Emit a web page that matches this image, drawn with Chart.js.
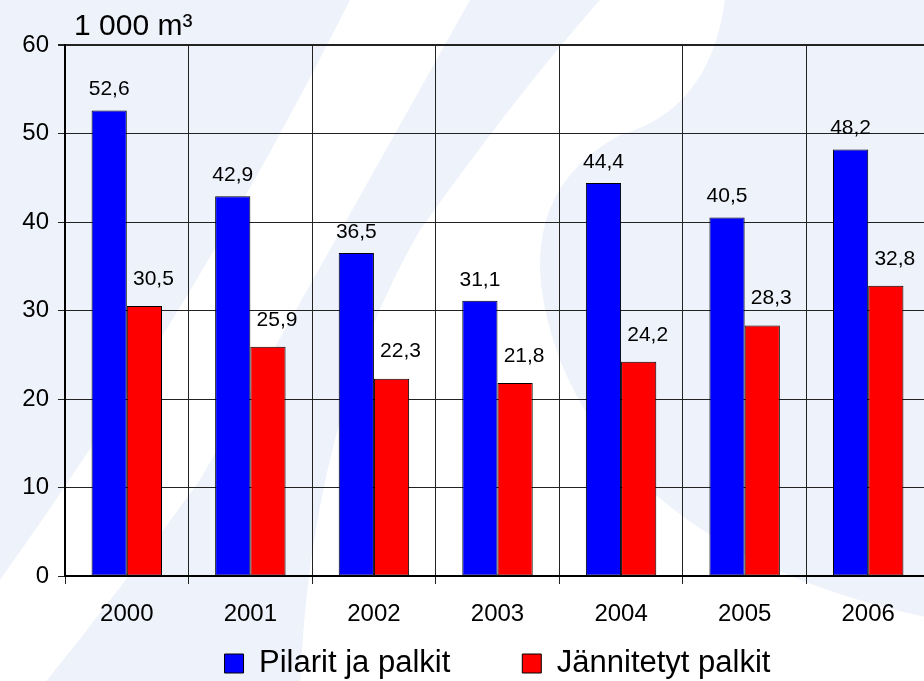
<!DOCTYPE html>
<html>
<head>
<meta charset="utf-8">
<script src="https://cdn.jsdelivr.net/npm/chart.js@4.4.1/dist/chart.umd.min.js"></script>
<style>
    html, body { margin: 0; padding: 0; overflow: hidden; background: #fff; }
    #chart-wrapper { position: relative; width: 940px; height: 689px; }
</style>
</head>
<body>
<div id="chart-wrapper"><canvas id="precastChart"></canvas></div>
<script>
const years = ['2000', '2001', '2002', '2003', '2004', '2005', '2006'];
const pilaritJaPalkit = [52.6, 42.9, 36.5, 31.1, 44.4, 40.5, 48.2];
const jannitetytPalkit = [30.5, 25.9, 22.3, 21.8, 24.2, 28.3, 32.8];
const yTicks = [0, 10, 20, 30, 40, 50, 60];
const unitLabel = '1 000 m³';

const FONT = '"Liberation Sans", Arial, sans-serif';
Chart.defaults.font.family = FONT;
Chart.defaults.color = '#000';

const fmt = v => v.toFixed(1).replace('.', ',');

// pale diagonal swooshes behind the chart
const watermark = {
    id: 'watermark',
    beforeDraw(chart) {
        const ctx = chart.ctx;
        ctx.save();
        ctx.fillStyle = '#EEF2FA';
        ctx.fillRect(0, 0, chart.width, chart.height);
        ctx.fillStyle = '#FFFFFF';

        ctx.beginPath();
        ctx.moveTo(350, 0);
        ctx.lineTo(470, 0);
        ctx.quadraticCurveTo(330, 250, 200, 480);
        ctx.quadraticCurveTo(120, 590, 40, 689);
        ctx.lineTo(0, 689);
        ctx.lineTo(0, 580);
        ctx.quadraticCurveTo(200, 300, 350, 0);
        ctx.fill();

        ctx.beginPath();
        ctx.moveTo(600, 0);
        ctx.lineTo(725, 0);
        ctx.quadraticCurveTo(710, 110, 620, 135);
        ctx.quadraticCurveTo(500, 200, 560, 360);
        ctx.quadraticCurveTo(640, 560, 940, 620);
        ctx.lineTo(940, 689);
        ctx.lineTo(300, 689);
        ctx.quadraticCurveTo(310, 420, 420, 230);
        ctx.quadraticCurveTo(520, 90, 600, 0);
        ctx.fill();
        ctx.restore();
    }
};

const valueLabels = {
    id: 'valueLabels',
    afterDatasetsDraw(chart) {
        const ctx = chart.ctx;
        ctx.save();
        ctx.font = '21px ' + FONT;
        ctx.fillStyle = '#000';
        ctx.textAlign = 'center';
        ctx.textBaseline = 'middle';
        chart.data.datasets.forEach((ds, i) => {
            chart.getDatasetMeta(i).data.forEach((bar, j) => {
                const dx = i === 0 ? 0 : 9;
                const dy = i === 0 ? 21 : 27;
                ctx.fillText(fmt(ds.data[j]), bar.x + dx, bar.y - dy);
            });
        });
        ctx.restore();
    }
};

const unitTitle = {
    id: 'unitTitle',
    afterDraw(chart) {
        const ctx = chart.ctx;
        ctx.save();
        ctx.font = '30px ' + FONT;
        ctx.fillStyle = '#000';
        ctx.textAlign = 'left';
        ctx.textBaseline = 'alphabetic';
        ctx.fillText(unitLabel, 74, 35);
        ctx.restore();
    }
};

new Chart(document.getElementById('precastChart'), {
    type: 'bar',
    data: {
        labels: years,
        datasets: [{
            label: 'Pilarit ja palkit',
            data: pilaritJaPalkit,
            backgroundColor: '#0000FF',
            borderColor: '#000',
            borderWidth: 1,
            borderSkipped: false
        }, {
            label: 'Jännitetyt palkit',
            data: jannitetytPalkit,
            backgroundColor: '#FF0000',
            borderColor: '#000',
            borderWidth: 1,
            borderSkipped: false
        }]
    },
    options: {
        responsive: true,
        maintainAspectRatio: false,
        animation: false,
        categoryPercentage: 0.57,
        barPercentage: 1.0,
        layout: { padding: { top: 45, right: 10, left: 0, bottom: 0 } },
        scales: {
            x: {
                grid: { offset: true, color: '#222', lineWidth: 1, tickLength: 8 },
                border: { color: '#000', width: 2 },
                ticks: { font: { size: 24 }, color: '#000', padding: 16 },
                afterFit: s => {
                    // legend sits right under the axis, labels overlap its gap
                    s.height = 0;
                    s._computeLabelArea = () => undefined;
                }
            },
            y: {
                min: 0,
                max: 60,
                afterBuildTicks: s => { s.ticks = yTicks.map(v => ({ value: v })); },
                grid: {
                    color: '#222',
                    lineWidth: ctx => (ctx.tick && ctx.tick.value === 60 ? 2 : 1),
                    tickLength: 7
                },
                border: { color: '#000', width: 2 },
                ticks: { font: { size: 24 }, color: '#000', padding: 9 },
                afterFit: s => { s.width = 65; }
            }
        },
        plugins: {
            legend: {
                position: 'bottom',
                fullSize: false,
                labels: {
                    font: { size: 31 },
                    color: '#000',
                    boxWidth: 19,
                    boxHeight: 19,
                    padding: 72
                }
            },
            tooltip: { enabled: false }
        }
    },
    plugins: [watermark, valueLabels, unitTitle]
});
</script>
</body>
</html>
